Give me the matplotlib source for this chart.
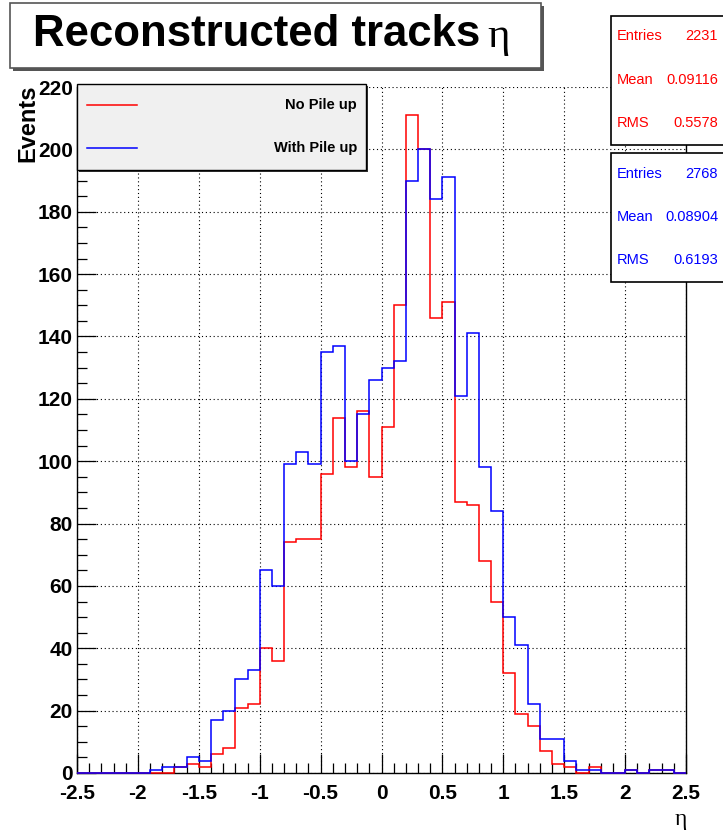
import matplotlib
matplotlib.use('Agg')
import matplotlib.pyplot as plt
from matplotlib.patches import Rectangle
from matplotlib.lines import Line2D
from matplotlib.ticker import MultipleLocator, FuncFormatter
import numpy as np

# Histograma de eta das trilhas reconstruidas, 50 bins de -2.5 a 2.5
eta_edges = np.linspace(-2.5, 2.5, 51)

no_pileup = [0, 0, 0, 0, 0, 0, 0, 0, 2, 3,
             2, 6, 8, 21, 22, 40, 36, 74, 75, 75,
             96, 114, 98, 116, 95, 111, 150, 211, 200, 146,
             151, 87, 86, 68, 55, 32, 19, 15, 7, 3,
             2, 0, 2, 0, 0, 1, 0, 1, 1, 0]

with_pileup = [0, 0, 0, 0, 0, 0, 1, 2, 2, 5,
               4, 17, 20, 30, 33, 65, 60, 99, 103, 99,
               135, 137, 100, 115, 126, 130, 132, 190, 200, 184,
               191, 121, 141, 98, 84, 50, 41, 22, 11, 11,
               4, 1, 1, 0, 0, 1, 0, 1, 1, 0]

series_labels = ['No Pile up', 'With Pile up']
series_colors = ['#ff0000', '#0000ff']
stat_mean = ['0.09116', '0.08904']
stat_rms = ['0.5578', '0.6193']

W, H = 723, 835
sans = 'Liberation Sans'
serif = 'Liberation Serif'


def fx(px):
    return px / W


def fy(py):
    return 1 - py / H


fig = plt.figure(figsize=(W / 100, H / 100), dpi=100)
fig.patch.set_facecolor('white')

ax = fig.add_axes([fx(77), fy(773), (686 - 77) / W, (773 - 87) / H])

for vals, col in zip([no_pileup, with_pileup], series_colors):
    ax.stairs(vals, eta_edges, color=col, lw=1.1, zorder=3, clip_on=False)

ax.set_xlim(-2.5, 2.5)
ax.set_ylim(0, 220)
ax.xaxis.set_major_locator(MultipleLocator(0.5))
ax.xaxis.set_minor_locator(MultipleLocator(0.1))
ax.yaxis.set_major_locator(MultipleLocator(20))
ax.yaxis.set_minor_locator(MultipleLocator(5))
ax.xaxis.set_major_formatter(FuncFormatter(lambda v, p: '%g' % v))
ax.tick_params(which='both', direction='in', top=False, right=False, width=0.9)
ax.tick_params(which='major', length=14)
ax.tick_params(which='minor', length=7.5)
ax.tick_params(axis='x', pad=8)
ax.tick_params(axis='y', pad=3)
for lab in ax.get_xticklabels() + ax.get_yticklabels():
    lab.set_fontfamily(sans)
    lab.set_fontweight('bold')
    lab.set_fontsize(15)

ax.grid(which='major', color='black', linestyle=(0, (1, 2.5)), lw=0.8)
ax.spines['top'].set_visible(False)
for s in ['left', 'bottom', 'right']:
    ax.spines[s].set_linewidth(1.0)

# caixa do titulo com sombra
fig.add_artist(Rectangle((fx(13), fy(71)), (541 - 10) / W, (68 - 3) / H,
                         transform=fig.transFigure, facecolor='#555555',
                         edgecolor='none', zorder=4))
fig.add_artist(Rectangle((fx(10), fy(68)), (541 - 10) / W, (68 - 3) / H,
                         transform=fig.transFigure, facecolor='white',
                         edgecolor='#555555', lw=1.2, zorder=5))
t = fig.text(fx(33), fy(34), 'Reconstructed tracks', family=sans,
             weight='bold', size=31.5, ha='left', va='center', zorder=6)
fig.canvas.draw()
bb = t.get_window_extent()
fig.text(bb.x1 / W + fx(7), fy(37), '\u03b7', family=serif, size=31,
         ha='left', va='center', zorder=6)

# legenda
fig.add_artist(Rectangle((fx(79), fy(172)), (366 - 77) / W, (170 - 84) / H,
                         transform=fig.transFigure, facecolor='#333333',
                         edgecolor='none', zorder=4))
fig.add_artist(Rectangle((fx(77), fy(170)), (366 - 77) / W, (170 - 84) / H,
                         transform=fig.transFigure, facecolor='#f0f0f0',
                         edgecolor='black', lw=1.0, zorder=5))
for i, (lab, col) in enumerate(zip(series_labels, series_colors)):
    yy = fy(105 + 43 * i)
    fig.add_artist(Line2D([fx(87), fx(137)], [yy, yy], color=col, lw=1.1,
                          transform=fig.transFigure, zorder=6))
    fig.text(fx(357), yy, lab, family=sans, weight='bold', size=10.5,
             ha='right', va='center', zorder=6)

# caixas de estatistica
tops = [16, 153]
entries = [int(sum(no_pileup)), int(sum(with_pileup))]
for k, col in enumerate(series_colors):
    top = tops[k]
    fig.add_artist(Rectangle((fx(610.5), fy(top + 129)), 130 / W, 129 / H,
                             transform=fig.transFigure, facecolor='white',
                             edgecolor='black', lw=1.2, zorder=5))
    rows = [('Entries', str(entries[k])), ('Mean', stat_mean[k]),
            ('RMS', stat_rms[k])]
    for j, (name, val) in enumerate(rows):
        yy = fy(top + 20.5 + 43.3 * j)
        fig.text(fx(617), yy, name, color=col, family=sans, size=10.5,
                 ha='left', va='center', zorder=6)
        fig.text(fx(718), yy, val, color=col, family=sans, size=10.5,
                 ha='right', va='center', zorder=6)

fig.text(fx(28), fy(123), 'Events', family=sans, weight='bold', size=17,
         rotation=90, ha='center', va='center')
fig.text(fx(681), fy(820), '\u03b7', family=serif, size=17,
         ha='center', va='center')

fig.savefig('out.png', dpi=100)
